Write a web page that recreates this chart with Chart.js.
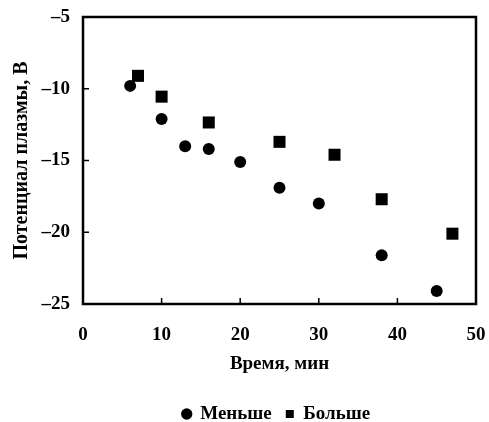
<!DOCTYPE html>
<html>
<head>
<meta charset="utf-8">
<script src="https://cdn.jsdelivr.net/npm/chart.js@4/dist/chart.umd.min.js"></script>
<style>
  html, body { margin: 0; padding: 0; background: #fff; }
  #wrap { width: 489px; height: 422px; }
</style>
</head>
<body>
<div id="wrap"><canvas id="chart"></canvas></div>
<script>
// Plasma potential vs time, two series
const seriesNames = ['Меньше', 'Больше'];
const timeLess = [6, 10, 13, 16, 20, 25, 30, 38, 45];
const potentialLess = [-9.8, -12.1, -14.0, -14.2, -15.1, -16.9, -18.0, -21.6, -24.1];
const timeMore = [7, 10, 16, 25, 32, 38, 47];
const potentialMore = [-9.1, -10.55, -12.35, -13.7, -14.6, -17.7, -20.1];
const xTicks = [0, 10, 20, 30, 40, 50];
const yTicks = [-5, -10, -15, -20, -25];

const FONT = '"Liberation Serif", "Times New Roman", serif';

// Helper: zip x and y arrays into points
function toPoints(xs, ys) {
  return xs.map((x, i) => ({ x: x, y: ys[i] }));
}

// Legend is centred under the plot area, not the whole canvas
const centreLegend = {
  id: 'centreLegend',
  afterLayout(chart) {
    const lg = chart.legend, a = chart.chartArea;
    const shift = (a.left + a.right) / 2 - (lg.left + lg.right) / 2 - 3;
    lg.left += shift;
    lg.right += shift;
  }
};

// Frame around the plot area plus short inward tick marks
const frameTicks = {
  id: 'frameTicks',
  afterDraw(chart) {
    const { ctx, chartArea: a, scales } = chart;
    ctx.save();
    ctx.strokeStyle = '#000';
    ctx.lineWidth = 2.5;
    ctx.strokeRect(a.left, a.top, a.right - a.left, a.bottom - a.top);
    ctx.lineWidth = 1.5;
    ctx.beginPath();
    xTicks.forEach(v => {
      const px = scales.x.getPixelForValue(v);
      ctx.moveTo(px, a.bottom);
      ctx.lineTo(px, a.bottom - 6);
    });
    yTicks.forEach(v => {
      const py = scales.y.getPixelForValue(v);
      ctx.moveTo(a.left, py);
      ctx.lineTo(a.left + 6, py);
    });
    ctx.stroke();
    ctx.restore();
  }
};

new Chart(document.getElementById('chart'), {
  type: 'scatter',
  data: {
    datasets: [
      {
        label: seriesNames[0],
        data: toPoints(timeLess, potentialLess),
        pointStyle: 'circle',
        pointRadius: 6,
        backgroundColor: '#000',
        borderWidth: 0
      },
      {
        label: seriesNames[1],
        data: toPoints(timeMore, potentialMore),
        pointStyle: 'rect',
        pointRadius: 8.5,
        backgroundColor: '#000',
        borderWidth: 0
      }
    ]
  },
  options: {
    responsive: true,
    maintainAspectRatio: false,
    animation: false,
    layout: { padding: { top: 17, right: 13, left: 0, bottom: -11.5 } },
    scales: {
      x: {
        type: 'linear',
        min: 0,
        max: 50,
        afterBuildTicks: s => { s.ticks = xTicks.map(v => ({ value: v })); },
        afterFit: s => { s.height = 86.5; },
        grid: { display: false, drawTicks: true, tickLength: 20 },
        border: { display: false },
        ticks: {
          color: '#000',
          padding: 0,
          font: { family: FONT, size: 19, weight: 'bold' }
        },
        title: {
          display: true,
          text: 'Время, мин',
          color: '#000',
          padding: { top: 0, bottom: 15 },
          font: { family: FONT, size: 19, weight: 'bold' }
        }
      },
      y: {
        type: 'linear',
        min: -25,
        max: -5,
        afterBuildTicks: s => { s.ticks = yTicks.map(v => ({ value: v })); },
        afterFit: s => { s.width = 83; },
        grid: { display: false },
        border: { display: false },
        ticks: {
          color: '#000',
          padding: 5,
          font: { family: FONT, size: 19, weight: 'bold' },
          callback: v => String(v).replace('-', '–')
        },
        title: {
          display: true,
          text: 'Потенциал плазмы, В',
          color: '#000',
          padding: { top: 10, bottom: 4 },
          font: { family: FONT, size: 20, weight: 'bold' }
        }
      }
    },
    plugins: {
      legend: {
        position: 'bottom',
        labels: {
          usePointStyle: true,
          boxWidth: 8,
          boxHeight: 8,
          padding: 14,
          color: '#000',
          font: { family: FONT, size: 19, weight: 'bold' }
        }
      },
      tooltip: { enabled: false }
    }
  },
  plugins: [centreLegend, frameTicks]
});
</script>
</body>
</html>
